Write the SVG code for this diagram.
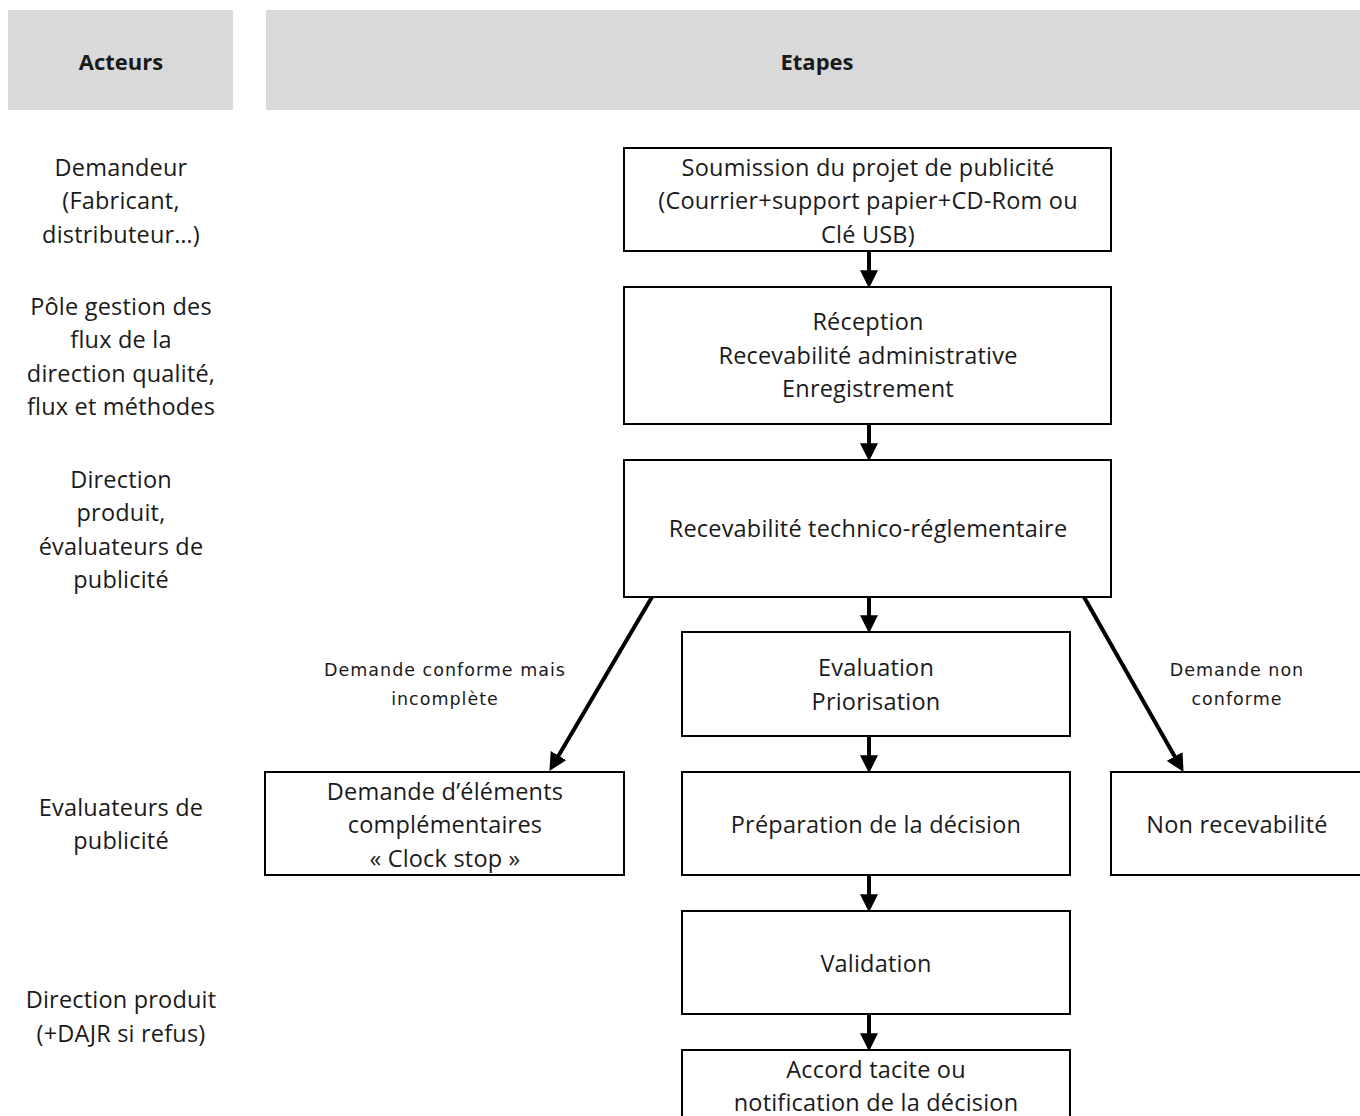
<svg xmlns="http://www.w3.org/2000/svg" width="1360" height="1116" viewBox="0 0 1360 1116">
<defs>
<marker id="ah" markerUnits="userSpaceOnUse" markerWidth="18" markerHeight="18" viewBox="0 0 16 16" refX="6" refY="8" orient="auto">
<path d="M0,0 L16,8 L0,16 z" fill="#000"/>
</marker>
<style>
.hdr{fill:#d9d9d9}
.box{fill:#fff;stroke:#000;stroke-width:2}
text{font-family:"Open Sans","Liberation Sans",sans-serif;fill:#1a1a1a;text-anchor:middle}
.t{font-size:23.5px;letter-spacing:0.2px}
.h{font-size:22px;font-weight:bold}
.s{font-size:17.5px;letter-spacing:1px;font-family:"DejaVu Sans","Open Sans",sans-serif}
.c{stroke:#000;stroke-width:4;fill:none;marker-end:url(#ah)}
</style>
</defs>
<rect width="1360" height="1116" fill="#fff"/>
<g id="header-acteurs"><rect class="hdr" x="8" y="10" width="225" height="100"/><text class="h" x="121" y="70">Acteurs</text></g>
<g id="header-etapes"><rect class="hdr" x="266" y="10" width="1094" height="100"/><text class="h" x="817" y="70">Etapes</text></g>

<g id="actor1"><text class="t" x="121" y="176">Demandeur</text><text class="t" x="121" y="209">(Fabricant,</text><text class="t" x="121" y="243">distributeur…)</text></g>
<g id="actor2"><text class="t" x="121" y="315">Pôle gestion des</text><text class="t" x="121" y="348">flux de la</text><text class="t" x="121" y="382">direction qualité,</text><text class="t" x="121" y="415">flux et méthodes</text></g>
<g id="actor3"><text class="t" x="121" y="488">Direction</text><text class="t" x="121" y="521">produit,</text><text class="t" x="121" y="555">évaluateurs de</text><text class="t" x="121" y="588">publicité</text></g>
<g id="actor4"><text class="t" x="121" y="816">Evaluateurs de</text><text class="t" x="121" y="849">publicité</text></g>
<g id="actor5"><text class="t" x="121" y="1008">Direction produit</text><text class="t" x="121" y="1042">(+DAJR si refus)</text></g>

<g id="soumission"><rect class="box" x="624" y="148" width="487" height="103"/><text class="t" x="868" y="176">Soumission du projet de publicité</text><text class="t" x="868" y="209">(Courrier+support papier+CD-Rom ou</text><text class="t" x="868" y="243">Clé USB)</text></g>
<g id="reception"><rect class="box" x="624" y="287" width="487" height="137"/><text class="t" x="868" y="330">Réception</text><text class="t" x="868" y="364">Recevabilité administrative</text><text class="t" x="868" y="397">Enregistrement</text></g>
<g id="recevabilite"><rect class="box" x="624" y="460" width="487" height="137"/><text class="t" x="868" y="537">Recevabilité technico-réglementaire</text></g>
<g id="evaluation"><rect class="box" x="682" y="632" width="388" height="104"/><text class="t" x="876" y="676">Evaluation</text><text class="t" x="876" y="710">Priorisation</text></g>
<g id="demande-elements"><rect class="box" x="265" y="772" width="359" height="103"/><text class="t" x="445" y="800">Demande d’éléments</text><text class="t" x="445" y="833">complémentaires</text><text class="t" x="445" y="867">« Clock stop »</text></g>
<g id="preparation"><rect class="box" x="682" y="772" width="388" height="103"/><text class="t" x="876" y="833">Préparation de la décision</text></g>
<g id="non-recevabilite"><rect class="box" x="1111" y="772" width="260" height="103"/><text class="t" x="1237" y="833">Non recevabilité</text></g>
<g id="validation"><rect class="box" x="682" y="911" width="388" height="103"/><text class="t" x="876" y="972">Validation</text></g>
<g id="accord"><rect class="box" x="682" y="1050" width="388" height="80"/><text class="t" x="876" y="1078">Accord tacite ou</text><text class="t" x="876" y="1111">notification de la décision</text></g>

<g id="connectors">
<line class="c" x1="869" y1="251" x2="869" y2="277"/>
<line class="c" x1="869" y1="424" x2="869" y2="450"/>
<line class="c" x1="869" y1="597" x2="869" y2="622"/>
<line class="c" x1="869" y1="736" x2="869" y2="762"/>
<line class="c" x1="869" y1="875" x2="869" y2="901"/>
<line class="c" x1="869" y1="1014" x2="869" y2="1040"/>
<line class="c" x1="652" y1="597" x2="555.1" y2="761.4"/>
<line class="c" x1="1084" y1="597" x2="1178" y2="762.3"/>
<text class="s" x="445" y="676">Demande conforme mais</text>
<text class="s" x="445" y="705">incomplète</text>
<text class="s" x="1237" y="676">Demande non</text>
<text class="s" x="1237" y="705">conforme</text>
</g>
</svg>
